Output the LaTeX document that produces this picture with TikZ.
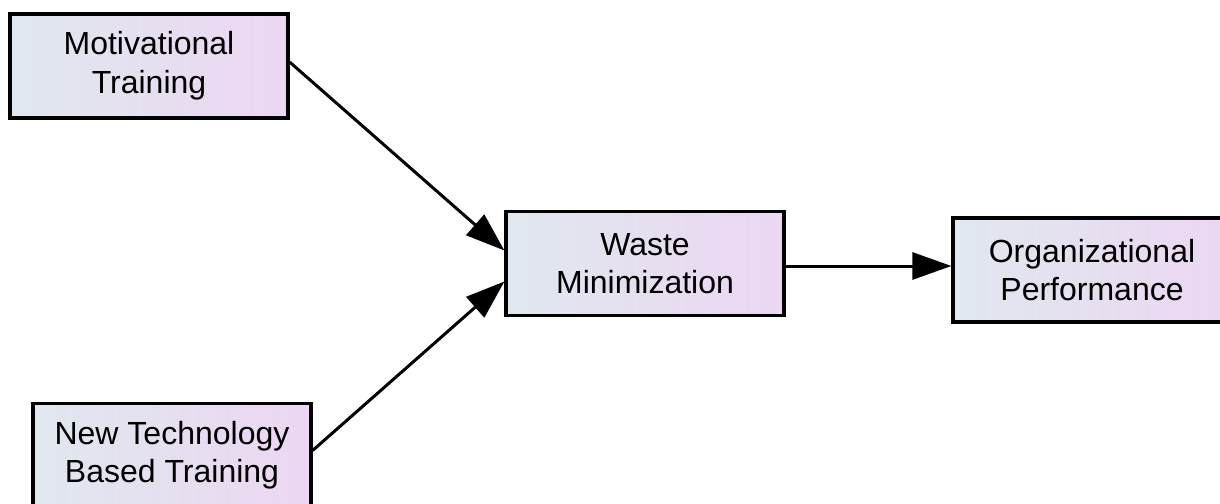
\documentclass[tikz,border=0pt]{standalone}
\usepackage{fontspec}
\setmainfont{Liberation Sans}
\usetikzlibrary{arrows.meta,calc}
\definecolor{boxleft}{RGB}{224,232,238}
\definecolor{boxright}{RGB}{236,214,242}
\tikzset{
  varbox/.style={draw=black, line width=3.2pt, left color=boxleft, right color=boxright,
    minimum width=278pt, minimum height=104pt, inner sep=0pt, align=center,
    font=\fontsize{32}{38}\selectfont},
  path/.style={draw=black, line width=3pt, -{Triangle[length=39pt,width=27pt]}}
}
\begin{document}
\begin{tikzpicture}[x=1pt,y=-1pt]
  \useasboundingbox (0,0) rectangle (1220,503);
  \node[varbox] (mot)   at (149,66)    {\raisebox{-3pt}{\begin{tabular}{@{}c@{}}Motivational\\[1pt]Training\end{tabular}}};
  \node[varbox] (newt)  at (172,455.5) {New Technology\\Based Training};
  \node[varbox] (waste) at (645,263.5) {Waste\\Minimization};
  \node[varbox] (org)   at (1092,270)  {Organizational\\Performance};
  \coordinate (wo) at ($(waste.east)+(0,2.5)$);
  \draw[path] ($(mot.east)+(0,-4)$) -- ($(waste.west)+(0,-13)$);
  \draw[path] ($(newt.east)+(0,-5)$) -- ($(waste.west)+(0,18)$);
  \draw[path] (wo) -- (wo -| org.west);
\end{tikzpicture}
\end{document}
